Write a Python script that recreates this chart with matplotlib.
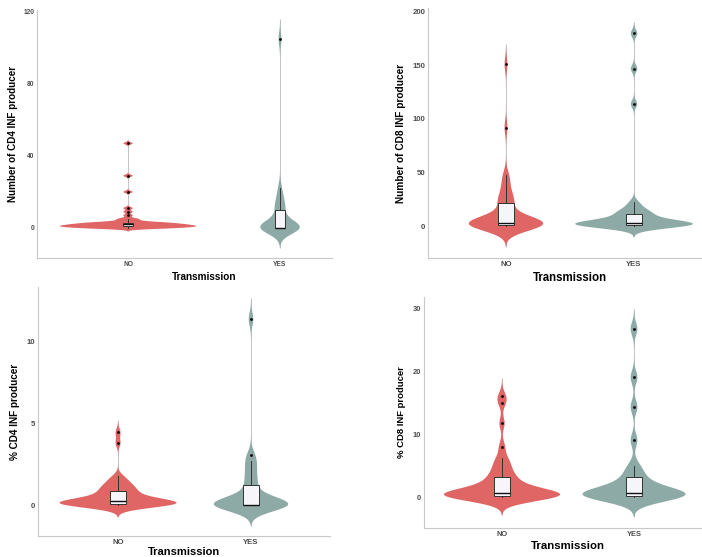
import numpy as np
import matplotlib
matplotlib.use("Agg")
import matplotlib.pyplot as plt

plt.rcParams['font.family'] = ['Liberation Sans', 'DejaVu Sans']

# ---------------- data ----------------
categories = ["NO", "YES"]

cd4_count_no = [0, 0, 0, 0, 0, 0, 0, 0, 1, 1, 1, 1, 1, 1, 1, 1, 1, 1,
                2, 2, 2, 2, 2, 2, 2, 2, 3, 3, 3, 3, 3, 3,
                4, 5, 5, 7, 9, 11, 20, 29, 47]
cd4_count_yes = [0, 0, 0, 0, 0, 0, 0, 0, 0, 0, 0,
                 1, 2, 4, 7, 10, 12, 14, 17, 22, 105]

cd8_count_no = [0, 0, 0, 0, 0, 0, 1, 1, 1, 1, 1, 1, 2, 2, 2, 2,
                3, 3, 3, 3, 3, 3, 4, 5, 6, 7, 9, 11, 16, 21, 22,
                23, 26, 29, 33, 38, 44, 48, 92, 151]
cd8_count_yes = [0, 0, 0, 0, 0, 1, 1, 1, 1, 2, 2, 2, 2, 3, 3, 3, 3,
                 4, 5, 6, 8, 10, 11, 12, 13, 15, 18, 22, 114, 147, 180]

cd4_pct_no = [0, 0, 0, 0, 0, 0, 0, 0, 0, 0, 0.03, 0.07,
              0.10, 0.12, 0.14, 0.16, 0.18, 0.19, 0.20, 0.21, 0.22, 0.23,
              0.26, 0.30, 0.35, 0.40, 0.45, 0.52, 0.60, 0.68, 0.76,
              0.82, 0.88, 0.95, 1.05, 1.15, 1.20, 1.30, 1.45, 1.60, 1.75,
              3.80, 4.45]
cd4_pct_yes = [0, 0, 0, 0, 0, 0, 0, 0, 0, 0, 0, 0, 0,
               0.1, 0.2, 0.3, 0.5, 0.8, 1.2, 1.5, 1.9, 2.3, 2.7, 3.05, 11.4]

cd8_pct_no = [0, 0, 0.05, 0.08, 0.1, 0.1, 0.12, 0.15, 0.15, 0.18,
              0.2, 0.25, 0.3, 0.35, 0.4, 0.45, 0.5, 0.55, 0.6,
              0.8, 1.0, 1.2, 1.5, 1.8, 2.1, 2.5, 2.8, 3.1,
              3.6, 4.2, 4.8, 5.5, 6.2, 8.0, 11.7, 15.0, 16.0]
cd8_pct_yes = [0, 0, 0.05, 0.1, 0.12, 0.15, 0.18, 0.25, 0.3, 0.4, 0.5, 0.55,
               0.65, 0.9, 1.2, 1.6, 2.0, 2.5, 3.2, 4.0, 5.0,
               9.0, 14.3, 19.0, 26.7]

y_labels = ["Number of CD4 INF producer", "Number of CD8 INF producer",
            "% CD4 INF producer", "% CD8 INF producer"]
y_ticks = [[0, 40, 80, 120], [0, 50, 100, 150, 200], [0, 5, 10], [0, 10, 20, 30]]
x_label = "Transmission"

# ---------------- styles / layout ----------------
colors = ["#E06565", "#8DAAA6"]
W, H = 702, 557

panels = [
    dict(data=(cd4_count_no, cd4_count_yes), box=(37, 10, 332, 258),
         ylim=(-16.7, 121.1), xlim=(0.401, 2.342), hw=(0.45, 0.13), bw=0.065,
         ylab_x=-0.064, xlab=(0.566, -0.056), fs_tick=4.8, fs_lab=7.1, fs_x=7.2),
    dict(data=(cd8_count_no, cd8_count_yes), box=(428, 8, 701, 258),
         ylim=(-29.9, 203.7), xlim=(0.391, 2.523), hw=(0.29, 0.46), bw=0.12,
         ylab_x=-0.081, xlab=(0.52, -0.056), fs_tick=5.6, fs_lab=7.3, fs_x=8.3),
    dict(data=(cd4_pct_no, cd4_pct_yes), box=(38, 287, 330, 536),
         ylim=(-1.90, 13.37), xlim=(0.398, 2.594), hw=(0.44, 0.28), bw=0.12,
         ylab_x=-0.062, xlab=(0.5, -0.043), fs_tick=5.6, fs_lab=7.2, fs_x=8.0),
    dict(data=(cd8_pct_no, cd8_pct_yes), box=(424, 297, 702, 528),
         ylim=(-4.92, 31.75), xlim=(0.409, 2.515), hw=(0.44, 0.39), bw=0.12,
         ylab_x=-0.065, xlab=(0.518, -0.056), fs_tick=5.4, fs_lab=6.8, fs_x=8.2),
]


def nrd0(x):
    x = np.asarray(x, float)
    sd = x.std(ddof=1)
    q75, q25 = np.percentile(x, [75, 25])
    lo = min(sd, (q75 - q25) / 1.34)
    if lo <= 0:
        lo = sd if sd > 0 else 1.0
    return 0.9 * lo * len(x) ** -0.2


def kde(x, bw, grid):
    x = np.asarray(x, float)
    z = (grid[:, None] - x[None, :]) / bw
    return np.exp(-0.5 * z ** 2).sum(1) / (len(x) * bw * np.sqrt(2 * np.pi))


fig = plt.figure(figsize=(W / 100, H / 100), dpi=100)

for i, p in enumerate(panels):
    l, t, r, b = p["box"]
    ax = fig.add_axes([l / W, 1 - b / H, (r - l) / W, (b - t) / H])
    positions = [1, 2]
    for pos, data, col, hw in zip(positions, p["data"], colors, p["hw"]):
        bw = nrd0(data)
        grid = np.linspace(min(data) - 3 * bw, max(data) + 3 * bw, 512)
        d = kde(data, bw, grid)
        w = d / d.max() * hw
        ax.vlines(pos, grid[0], grid[-1], color="#c4c4c4", lw=0.7, zorder=1)
        ax.fill_betweenx(grid, pos - w, pos + w, facecolor=col,
                         edgecolor="none", zorder=2)
        ax.boxplot([data], positions=[pos], widths=p["bw"], patch_artist=True,
                   whis=1.5, showcaps=False, manage_ticks=False,
                   boxprops=dict(facecolor="#F5F5FA", edgecolor="#333333", lw=0.7),
                   medianprops=dict(color="#111111", lw=1.0),
                   whiskerprops=dict(color="#333333", lw=0.7),
                   flierprops=dict(marker="o", markersize=2.0,
                                   markerfacecolor="black",
                                   markeredgecolor="none"),
                   zorder=3)
    ax.set_xlim(*p["xlim"])
    ax.set_ylim(*p["ylim"])
    ax.set_xticks(positions)
    ax.set_xticklabels(categories)
    ax.set_yticks(y_ticks[i])
    ax.tick_params(length=0, pad=2, labelsize=p["fs_tick"], labelcolor="#4d4d4d")
    for lab in ax.get_xticklabels() + ax.get_yticklabels():
        lab.set_fontweight("bold")
    for s in ["top", "right"]:
        ax.spines[s].set_visible(False)
    for s in ["left", "bottom"]:
        ax.spines[s].set_color("#c8c8c8")
        ax.spines[s].set_linewidth(0.8)
    ax.set_facecolor("none")
    ax.set_ylabel(y_labels[i], fontsize=p["fs_lab"], fontweight="bold")
    ax.yaxis.set_label_coords(p["ylab_x"], 0.5)
    ax.set_xlabel(x_label, fontsize=p["fs_x"], fontweight="bold")
    ax.xaxis.set_label_coords(*p["xlab"])

fig.savefig("out.png", dpi=100)
